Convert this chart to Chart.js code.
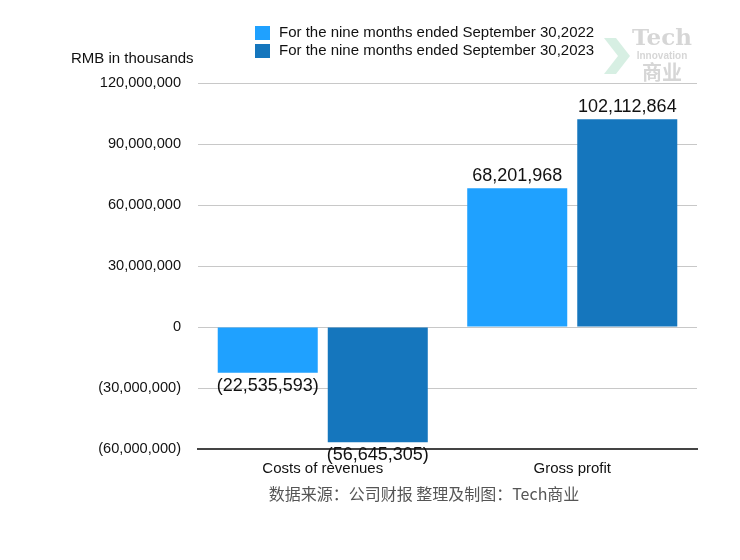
<!DOCTYPE html>
<html>
<head>
<meta charset="utf-8">
<script src="https://cdn.jsdelivr.net/npm/chart.js@4.4.1/dist/chart.umd.min.js"></script>
<style>
    html, body { margin: 0; padding: 0; background: #fff; }
    #wrap { width: 740px; height: 560px; }
</style>
</head>
<body>
<div id="wrap"><canvas id="chart" width="740" height="560"></canvas></div>
<script>
// categories and series
const categories = ['Costs of revenues', 'Gross profit'];
const seriesNames = ['For the nine months ended September 30,2022', 'For the nine months ended September 30,2023'];
const values2022 = [-22535593, 68201968];
const values2023 = [-56645305, 102112864];
const yTicks = [-60000000, -30000000, 0, 30000000, 60000000, 90000000, 120000000];

const colors = ['#1fa1ff', '#1576bd'];
const font = '"Liberation Sans", Arial, Helvetica, sans-serif';

function fmt(v) {
    const s = Math.abs(v).toLocaleString('en-US');
    return v < 0 ? '(' + s + ')' : s;
}

// draws value labels, legend, unit text, watermark and source line
const decorPlugin = {
    id: 'decor',
    afterDatasetsDraw(chart) {
        const ctx = chart.ctx;
        ctx.save();
        ctx.font = '18px ' + font;
        ctx.fillStyle = '#111';
        ctx.textAlign = 'center';
        chart.data.datasets.forEach((ds, di) => {
            const meta = chart.getDatasetMeta(di);
            meta.data.forEach((bar, i) => {
                const v = ds.data[i];
                if (v >= 0) {
                    ctx.textBaseline = 'bottom';
                    ctx.fillText(fmt(v), bar.x, bar.y - 3);
                } else {
                    ctx.textBaseline = 'top';
                    ctx.fillText(fmt(v), bar.x, bar.y + 4);
                }
            });
        });
        ctx.restore();
    },
    afterDraw(chart) {
        const ctx = chart.ctx;
        ctx.save();

        // legend
        ctx.font = '15px ' + font;
        ctx.textAlign = 'left';
        ctx.textBaseline = 'middle';
        seriesNames.forEach((name, i) => {
            const y = 33 + i * 18;
            ctx.fillStyle = colors[i];
            ctx.fillRect(255, y - 7, 15, 14);
            ctx.fillStyle = '#111';
            ctx.fillText(name, 279, y);
        });

        // unit label
        ctx.font = '15px ' + font;
        ctx.fillStyle = '#111';
        ctx.fillText('RMB in thousands', 71, 59);

        // watermark
        ctx.globalAlpha = 0.4;
        ctx.fillStyle = '#9ad8b8';
        ctx.beginPath();
        ctx.moveTo(604, 38); ctx.lineTo(616, 38); ctx.lineTo(630, 56);
        ctx.lineTo(616, 74); ctx.lineTo(604, 74); ctx.lineTo(618, 56);
        ctx.closePath();
        ctx.fill();
        ctx.fillStyle = '#999';
        ctx.textAlign = 'center';
        ctx.font = 'bold 23px "DejaVu Serif", serif';
        ctx.fillText('Tech', 662, 39);
        ctx.font = 'bold 10px ' + font;
        ctx.fillText('Innovation', 662, 56);
        ctx.font = 'bold 20px "Noto Sans CJK SC", sans-serif';
        ctx.fillText('商业', 662, 72);
        ctx.globalAlpha = 1;

        // source
        ctx.font = '16px "Noto Sans CJK SC", sans-serif';
        ctx.fillStyle = '#555';
        ctx.textAlign = 'center';
        ctx.fillText('数据来源：公司财报 整理及制图：Tech商业', 424, 494);
        ctx.restore();
    }
};

new Chart(document.getElementById('chart'), {
    type: 'bar',
    data: {
        labels: categories,
        datasets: [
            { label: seriesNames[0], data: values2022, backgroundColor: colors[0] },
            { label: seriesNames[1], data: values2023, backgroundColor: colors[1] }
        ]
    },
    options: {
        responsive: false,
        animation: false,
        events: [],
        layout: { padding: { top: 83, right: 43, bottom: 0, left: 0 } },
        datasets: {
            bar: { categoryPercentage: 0.882, barPercentage: 0.909 }
        },
        plugins: {
            legend: { display: false },
            tooltip: { enabled: false }
        },
        scales: {
            x: {
                grid: { display: false },
                border: { display: true, color: '#444', width: 2 },
                ticks: { color: '#111', padding: 3, font: { family: font, size: 15 } },
                afterFit(scale) { scale.height = 111; }
            },
            y: {
                min: -60000000,
                max: 120000000,
                afterBuildTicks(scale) { scale.ticks = yTicks.map(v => ({ value: v })); },
                grid: {
                    color: ctx => ctx.tick && ctx.tick.value === -60000000 ? 'rgba(0,0,0,0)' : '#c8c8c8',
                    drawTicks: false
                },
                border: { display: false },
                ticks: {
                    color: '#111',
                    padding: 17,
                    font: { family: font, size: 14.6 },
                    callback: v => fmt(v)
                },
                afterFit(scale) { scale.width = 198; }
            }
        }
    },
    plugins: [decorPlugin]
});
</script>
</body>
</html>
